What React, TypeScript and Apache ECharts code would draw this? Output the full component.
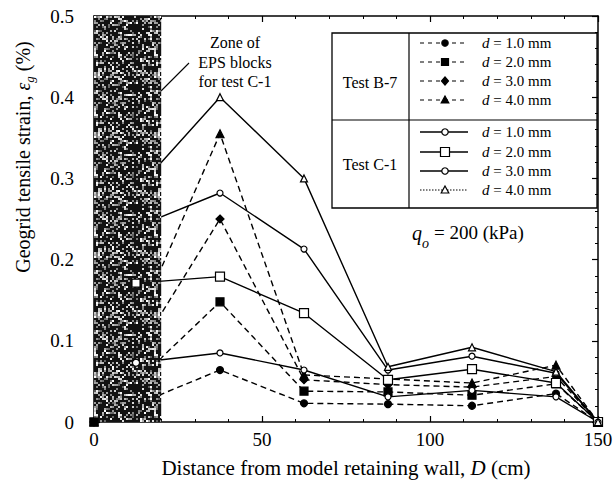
import React, { useEffect, useRef } from "react";
import * as echarts from "echarts";

// Distance from the wall (cm) at each gauge
const distB7 = [0, 37.5, 62.5, 87.5, 112.5, 137.5, 150];
const distC1 = [12.5, 37.5, 62.5, 87.5, 112.5, 137.5, 150];

// Test B-7 geogrid strains (%)
const b7d1 = [0, 0.064, 0.023, 0.022, 0.02, 0.035, 0];
const b7d2 = [0, 0.148, 0.038, 0.037, 0.033, 0.047, 0];
const b7d3 = [0, 0.25, 0.052, 0.046, 0.043, 0.056, 0];
const b7d4 = [0, 0.355, 0.058, 0.053, 0.048, 0.07, 0];

// Test C-1 geogrid strains (%)
const c1d1 = [0.073, 0.085, 0.064, 0.031, 0.039, 0.031, 0];
const c1d2 = [0.171, 0.179, 0.134, 0.052, 0.065, 0.048, 0];
const c1d3 = [0.24, 0.282, 0.213, 0.064, 0.081, 0.06, 0];
const c1d4 = [0.285, 0.4, 0.3, 0.068, 0.092, 0.062, 0];

const displacements = ["1.0", "2.0", "3.0", "4.0"];
const epsZoneEnd = 20; // EPS block zone, cm from wall
const FONT = "Liberation Serif, Times New Roman, serif";

const pairs = (xs: number[], ys: number[]) => xs.map((x, i) => [x, ys[i]]);

// Mottled dark fill used for the EPS block zone
function speckleTexture(): HTMLCanvasElement {
  const cells = 30;
  const cell = 2;
  const c = document.createElement("canvas");
  c.width = cells * cell;
  c.height = cells * cell;
  const ctx = c.getContext("2d")!;
  ctx.fillStyle = "#121212";
  ctx.fillRect(0, 0, c.width, c.height);
  for (let y = 0; y < cells; y++) {
    for (let x = 0; x < cells; x++) {
      const h = Math.sin(x * 12.9898 + y * 78.233) * 43758.5453;
      const f = h - Math.floor(h);
      if (f > 0.64) {
        const g = Math.round(90 + 165 * ((f - 0.64) / 0.36));
        ctx.fillStyle = `rgb(${g},${g},${g})`;
        ctx.fillRect(x * cell, y * cell, cell, cell);
      }
    }
  }
  return c;
}

function lineSeries(
  xs: number[],
  ys: number[],
  symbol: string,
  size: number,
  filled: boolean,
  dashed: boolean
) {
  return {
    type: "line",
    data: pairs(xs, ys),
    symbol,
    symbolSize: size,
    showAllSymbol: true,
    silent: true,
    z: 2,
    lineStyle: { color: "#000", width: 1.4, type: dashed ? [6, 4] : "solid" },
    itemStyle: {
      color: filled ? "#000" : "#fff",
      borderColor: "#000",
      borderWidth: 1.2,
    },
  };
}

// Single markers that sit on top of the EPS zone
function overlayPoint(x: number, y: number, symbol: string, size: number, filled: boolean) {
  return {
    type: "scatter",
    data: [[x, y]],
    symbol,
    symbolSize: size,
    z: 10,
    silent: true,
    itemStyle: {
      color: filled ? "#000" : "#fff",
      borderColor: "#000",
      borderWidth: 1.1,
      opacity: 1,
    },
  };
}

function legendMarker(kind: string, cx: number, cy: number, filled: boolean) {
  const style = {
    fill: filled ? "#000" : "#fff",
    stroke: "#000",
    lineWidth: 1.2,
  };
  if (kind === "circle") return { type: "circle", shape: { cx, cy, r: 3.2 }, style };
  if (kind === "rect")
    return { type: "rect", shape: { x: cx - 3.5, y: cy - 3.5, width: 7, height: 7 }, style };
  if (kind === "bigrect")
    return { type: "rect", shape: { x: cx - 4.5, y: cy - 4.5, width: 9, height: 9 }, style };
  if (kind === "diamond")
    return {
      type: "polygon",
      shape: { points: [[cx, cy - 4], [cx + 3.5, cy], [cx, cy + 4], [cx - 3.5, cy]] },
      style,
    };
  return {
    type: "polygon",
    shape: { points: [[cx, cy - 4], [cx + 3.8, cy + 3], [cx - 3.8, cy + 3]] },
    style,
  };
}

export default function App() {
  const ref = useRef<HTMLDivElement>(null);

  useEffect(() => {
    if (!ref.current) return;
    const chart = echarts.init(ref.current, null, { renderer: "svg" });
    const texture = speckleTexture();

    const axisCommon = {
      axisLine: { show: true, onZero: false, lineStyle: { color: "#000", width: 1.5 } },
      axisTick: { show: true, inside: true, length: 6, lineStyle: { color: "#000", width: 1.2 } },
      minorTick: { show: true, splitNumber: 5, length: 3, lineStyle: { color: "#000", width: 1 } },
      splitLine: { show: false },
      minorSplitLine: { show: false },
    };

    // Legend table rows
    const legendX0 = 420;
    const legendX1 = 468;
    const markerX = 445;
    const rowsB = [43, 62, 81, 100];
    const rowsC = [132, 152, 171, 190];
    const kindsB = ["circle", "rect", "diamond", "triangle"];
    const kindsC = ["circle", "bigrect", "circle", "triangle"];
    const rowText = (y: number, d: string) => ({
      type: "text",
      x: 482,
      y,
      style: {
        text: `{i|d} = ${d} mm`,
        font: `15px ${FONT}`,
        fill: "#000",
        verticalAlign: "middle",
        rich: { i: { fontStyle: "italic", fontSize: 15, fontFamily: FONT } },
      },
    });

    const legendItems: any[] = [
      {
        type: "rect",
        shape: { x: 332, y: 33, width: 265, height: 175 },
        style: { fill: "#fff", stroke: "#000", lineWidth: 1.3 },
      },
      { type: "line", shape: { x1: 409, y1: 33, x2: 409, y2: 208 }, style: { stroke: "#000", lineWidth: 1.2 } },
      { type: "line", shape: { x1: 332, y1: 120, x2: 597, y2: 120 }, style: { stroke: "#000", lineWidth: 1.2 } },
      {
        type: "text",
        x: 370,
        y: 82,
        style: { text: "Test B-7", font: `16px ${FONT}`, fill: "#000", align: "center", verticalAlign: "middle" },
      },
      {
        type: "text",
        x: 370,
        y: 164,
        style: { text: "Test C-1", font: `16px ${FONT}`, fill: "#000", align: "center", verticalAlign: "middle" },
      },
    ];
    displacements.forEach((d, i) => {
      const yb = rowsB[i];
      legendItems.push({
        type: "line",
        shape: { x1: legendX0, y1: yb, x2: legendX1, y2: yb },
        style: { stroke: "#000", lineWidth: 1.2, lineDash: [4, 4] },
      });
      legendItems.push(legendMarker(kindsB[i], markerX, yb, true));
      legendItems.push(rowText(yb, d));
      const yc = rowsC[i];
      legendItems.push({
        type: "line",
        shape: { x1: legendX0, y1: yc, x2: legendX1, y2: yc },
        style: { stroke: "#000", lineWidth: i === 3 ? 1 : 1.3, lineDash: i === 3 ? [1.5, 1.5] : null },
      });
      legendItems.push(legendMarker(kindsC[i], markerX, yc, false));
      legendItems.push(rowText(yc, d));
    });

    chart.setOption({
      animation: false,
      backgroundColor: "#fff",
      grid: { left: 94, right: 18, top: 16, bottom: 61, containLabel: false },
      xAxis: [
        {
          type: "value",
          min: 0,
          max: 150,
          interval: 50,
          position: "bottom",
          ...axisCommon,
          axisLabel: { color: "#000", fontFamily: FONT, fontSize: 19, margin: 8 },
          name: "{a|Distance from model retaining wall, }{i|D}{a| (cm)}",
          nameLocation: "middle",
          nameGap: 35,
          nameTextStyle: {
            rich: {
              a: { fontFamily: FONT, fontSize: 21, color: "#000" },
              i: { fontFamily: FONT, fontSize: 21, color: "#000", fontStyle: "italic" },
            },
          },
        },
        {
          type: "value",
          min: 0,
          max: 150,
          interval: 50,
          position: "top",
          ...axisCommon,
          axisLabel: { show: false },
        },
      ],
      yAxis: [
        {
          type: "value",
          min: 0,
          max: 0.5,
          interval: 0.1,
          position: "left",
          ...axisCommon,
          axisLabel: {
            color: "#000",
            fontFamily: FONT,
            fontSize: 19,
            margin: 20,
            formatter: (v: number) => (v === 0 ? "0" : v.toFixed(1)),
          },
        },
        {
          type: "value",
          min: 0,
          max: 0.5,
          interval: 0.1,
          position: "right",
          ...axisCommon,
          axisLabel: { show: false },
        },
      ],
      series: [
        lineSeries(distB7, b7d1, "circle", 7, true, true),
        lineSeries(distB7, b7d2, "rect", 8, true, true),
        lineSeries(distB7, b7d3, "diamond", 8, true, true),
        lineSeries(distB7, b7d4, "triangle", 8, true, true),
        lineSeries(distC1, c1d1, "circle", 6, false, false),
        lineSeries(distC1, c1d2, "rect", 9, false, false),
        lineSeries(distC1, c1d3, "circle", 6, false, false),
        lineSeries(distC1, c1d4, "triangle", 7, false, false),
        {
          // EPS block zone next to the wall, drawn over the curves
          type: "line",
          data: [],
          z: 3,
          silent: true,
          markArea: {
            silent: true,
            z: 3,
            itemStyle: { color: { image: texture, repeat: "repeat" } as any },
            data: [[{ xAxis: 0 }, { xAxis: epsZoneEnd }]],
          },
        },
        overlayPoint(distC1[0], c1d1[0], "circle", 7, false),
        overlayPoint(distC1[0], c1d2[0], "rect", 8, false),
        overlayPoint(distB7[0], b7d2[0], "rect", 8, true),
      ],
      graphic: [
        {
          type: "group",
          z: 10,
          children: [
            ...legendItems,
            {
              // y-axis title
              type: "text",
              x: 23,
              y: 157,
              rotation: Math.PI / 2,
              style: {
                text: "{a|Geogrid tensile strain, }{e|ε}{s|g}{a| (%)}",
                align: "center",
                verticalAlign: "middle",
                fill: "#000",
                rich: {
                  a: { fontFamily: FONT, fontSize: 20, fill: "#000", lineHeight: 25 },
                  e: { fontFamily: FONT, fontSize: 20, fill: "#000", fontStyle: "italic", lineHeight: 25 },
                  s: {
                    fontFamily: FONT,
                    fontSize: 13,
                    fill: "#000",
                    fontStyle: "italic",
                    lineHeight: 25,
                    verticalAlign: "bottom",
                  },
                },
              },
            },
            {
              type: "text",
              x: 235,
              y: 33,
              style: {
                text: "Zone of\nEPS blocks\nfor test C-1",
                font: `16px ${FONT}`,
                fill: "#000",
                align: "center",
                verticalAlign: "top",
                lineHeight: 19.5,
              },
            },
            {
              type: "line",
              shape: { x1: 189, y1: 63, x2: 161, y2: 91 },
              style: { stroke: "#000", lineWidth: 1.1 },
            },
            {
              type: "text",
              x: 412,
              y: 233,
              style: { text: "q", font: `italic 20px ${FONT}`, fill: "#000", verticalAlign: "middle" },
            },
            {
              type: "text",
              x: 422,
              y: 243,
              style: { text: "o", font: `italic 14px ${FONT}`, fill: "#000", verticalAlign: "middle" },
            },
            {
              type: "text",
              x: 434,
              y: 232,
              style: { text: "= 200 (kPa)", font: `19px ${FONT}`, fill: "#000", verticalAlign: "middle" },
            },
          ],
        },
      ],
    });

    return () => chart.dispose();
  }, []);

  return (
    <div
      ref={ref}
      style={{ position: "fixed", left: 0, top: 0, width: 616, height: 483, background: "#fff" }}
    />
  );
}
